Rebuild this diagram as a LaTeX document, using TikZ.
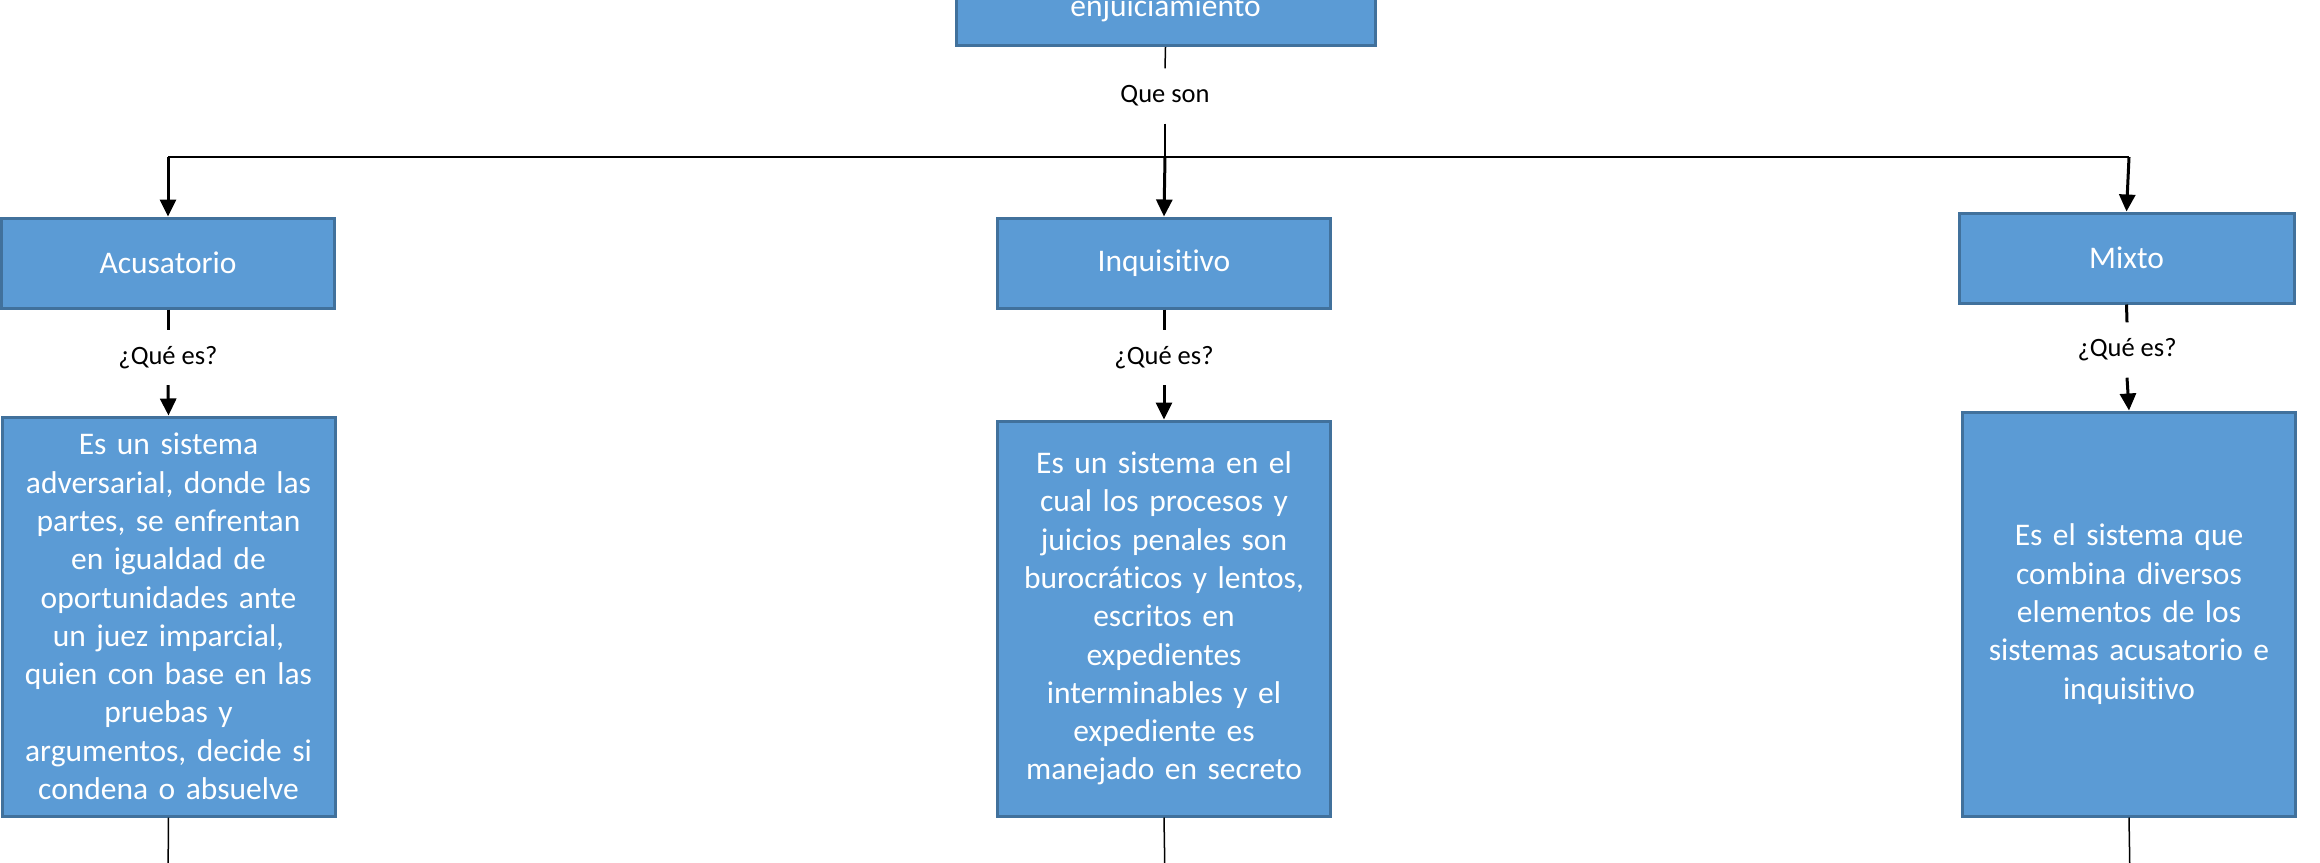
\documentclass[tikz,border=0pt]{standalone}
\usepackage{fontspec}
\setmainfont{Carlito}[Ligatures=NoCommon]
\usetikzlibrary{arrows.meta}
\definecolor{cajaazul}{HTML}{5B9BD5}
\definecolor{bordeazul}{HTML}{41719C}
\tikzset{caja/.style={draw=bordeazul,fill=cajaazul,line width=3pt,text=white,
  minimum width=333pt,minimum height=90pt,inner sep=6pt,align=center,
  font=\fontsize{31.5}{38.3}\selectfont}}
\tikzset{defcaja/.style={caja,minimum height=399pt,text width=318pt}}
\tikzset{etiqueta/.style={font=\fontsize{26.5}{31}\selectfont,minimum height=55pt,inner sep=0pt}}
\tikzset{linea/.style={line width=1.5pt,black}}
\tikzset{tramo/.style={line width=3pt,black}}
\tikzset{flecha/.style={line width=3pt,black,-{Triangle[width=16pt,length=17pt]}}}

\begin{document}
\begin{tikzpicture}[x=1pt,y=-1pt]
      \useasboundingbox (0,0) rectangle (2320,862);
      \clip (0,0) rectangle (2320,862);
      \node [caja,anchor=south,minimum width=419pt,text height=70pt,text depth=23pt] (sistemas) at (1165.5,47) {enjuiciamiento};
      \node [etiqueta] (queson) at (1165,96) {Que son};
      \coordinate (izq) at (168,157);
      \coordinate (centro) at (1165,157);
      \coordinate (der) at (2129,157);
      \node [caja] (acusatorio) at (168,263) {Acusatorio};
      \node [caja] (inquisitivo) at (1164,263) {Inquisitivo};
      \node [caja,minimum width=335pt] (mixto) at (2126.5,258) {Mixto};
      \node [etiqueta] (que1) at (168,357.5) {¿Qué es?};
      \node [etiqueta] (que2) at (1164,357.5) {¿Qué es?};
      \node [etiqueta] (que3) at (2127,350) {¿Qué es?};
      \node [defcaja] (defacu) at (168.5,616.5) {Es un sistema\\ adversarial, donde las\\ partes, se enfrentan\\ en igualdad de\\ oportunidades ante\\ un juez imparcial,\\ quien con base en las\\ pruebas y\\ argumentos, decide si\\ condena o absuelve};
      \node [defcaja,minimum height=395pt] (definq) at (1164,618.5) {Es un sistema en el\\ cual los procesos y\\ juicios penales son\\ burocráticos y lentos,\\ escritos en\\ expedientes\\ interminables y el\\ expediente es\\ manejado en secreto};
      \node [defcaja,minimum height=404pt] (defmix) at (2129,614) {Es el sistema que\\ combina diversos\\ elementos de los\\ sistemas acusatorio e\\ inquisitivo};
      \coordinate (finacu) at (168,880);
      \coordinate (fininq) at (1165,880);
      \coordinate (finmix) at (2130,880);
      \draw [linea] (sistemas.south) -- (queson.north);
      \draw [linea] (queson.south) -- (centro);
      \draw [linea] (izq) -- (der);
      \draw [flecha] (izq) -- (acusatorio.north);
      \draw [flecha] (centro) -- (inquisitivo.north);
      \draw [flecha] (der) -- (mixto.north);
      \draw [tramo] (acusatorio.south) -- (que1.north);
      \draw [tramo] (inquisitivo.south) -- (que2.north);
      \draw [tramo] (mixto.south) -- (que3.north);
      \draw [flecha] (que1.south) -- (defacu.north);
      \draw [flecha] (que2.south) -- (definq.north);
      \draw [flecha] (que3.south) -- (defmix.north);
      \draw [linea] (defacu.south) -- (finacu);
      \draw [linea] (definq.south) -- (fininq);
      \draw [linea] (defmix.south) -- (finmix);
    \end{tikzpicture}
\end{document}
